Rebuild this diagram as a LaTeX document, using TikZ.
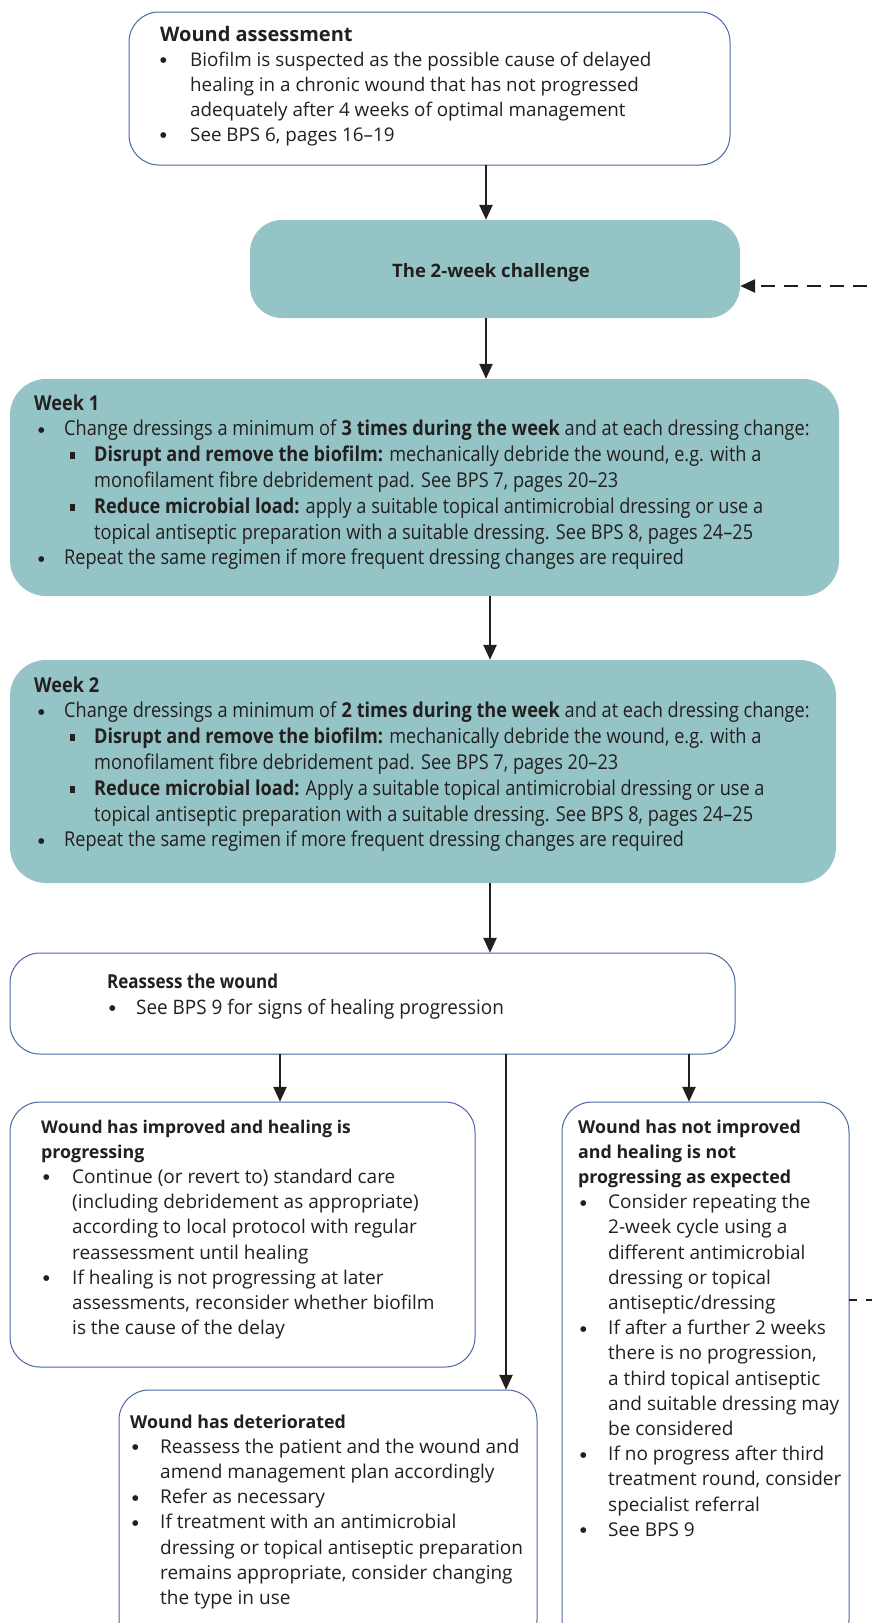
\documentclass[tikz,border=0pt]{standalone}
\usepackage{fontspec}
\setmainfont{Open Sans}
\newfontfamily\cond[FakeStretch=0.885]{Open Sans}
\newfontfamily\condb[FakeStretch=0.95]{Open Sans}
\newfontfamily\symfont{DejaVu Sans}
\usetikzlibrary{arrows.meta,calc}
\definecolor{tealfill}{HTML}{95C4C6}
\definecolor{bordblue}{HTML}{4A66A3}
\definecolor{txtcol}{HTML}{231F20}
\newcommand{\sbul}{\raisebox{3.6pt}{\symfont\fontsize{7.5}{7.5}\selectfont ●}}
\newcommand{\sq}{\raisebox{2.2pt}{\rule{5pt}{7pt}}}
\newcommand{\Bl}[2]{\hspace*{#1}\makebox[#2][l]{\sbul}}
\newcommand{\Sq}[2]{\hspace*{#1}\makebox[#2][l]{\sq}}
\newcommand{\hd}[1]{{\fontsize{17.8}{25}\selectfont\textbf{#1}}}
\tikzset{
  wbox/.style={draw=bordblue, line width=1pt, fill=white, rounded corners=30pt},
  tbox/.style={fill=tealfill, draw=none, rounded corners=32pt},
  txt/.style={inner sep=0pt, anchor=base west, text=txtcol},
  arr/.style={line width=2.4pt, -{Triangle[length=15pt,width=13pt]}, txtcol},
  dasharr/.style={line width=2.6pt, dash pattern=on 14pt off 9pt, dash phase=6pt, -{Triangle[length=15pt,width=13pt]}, txtcol},
}
\begin{document}
\begin{tikzpicture}[x=1pt,y=-1pt]
\useasboundingbox (0,0) rectangle (872,1623);
% boxes
\draw[wbox] (129,12) rectangle (730,165);
\node[inner sep=0pt, minimum width=601pt, minimum height=153pt] (wa) at (429.5,88.5) {};
\fill[tbox] (250,220) rectangle (740,318);
\node[inner sep=0pt, minimum width=490pt, minimum height=98pt] (ch) at (495,269) {};
\node[inner sep=0pt, font=\bfseries\fontsize{18.5}{22}\selectfont, text=txtcol] (cht) at (491,273) {The 2-week challenge};
\fill[tbox, rounded corners=36pt] (10,379) rectangle (839,596);
\node[inner sep=0pt, minimum width=829pt, minimum height=217pt] (w1) at (424.5,487.5) {};
\fill[tbox, rounded corners=36pt] (10,660) rectangle (836,883);
\node[inner sep=0pt, minimum width=826pt, minimum height=223pt] (w2) at (423,771.5) {};
\draw[wbox] (10,953) rectangle (735,1054);
\node[inner sep=0pt, minimum width=725pt, minimum height=101pt] (ra) at (372.5,1003.5) {};
\draw[wbox] (10,1102) rectangle (475,1367);
\node[inner sep=0pt, minimum width=465pt, minimum height=265pt] (imp) at (242.5,1234.5) {};
\draw[wbox] (119,1390) rectangle (537,1650);
\node[inner sep=0pt, minimum width=418pt, minimum height=260pt] (det) at (328,1520) {};
\draw[wbox] (562,1102) rectangle (849,1650);
\node[inner sep=0pt, minimum width=287pt, minimum height=548pt] (nimp) at (705.5,1376) {};

% texts
\node[txt] (twa) at (160,41) {\parbox[t]{560pt}{\fontsize{18.8}{25}\selectfont
{\fontsize{20}{25}\selectfont\textbf{Wound assessment}}\\
\Bl{0pt}{30pt}Biofilm is suspected as the possible cause of delayed\\
\hspace*{30pt}healing in a chronic wound that has not progressed\\
\hspace*{30pt}adequately after 4 weeks of optimal management\\
\Bl{0pt}{30pt}See BPS 6, pages 16–19}};

\node[txt] (tw1) at (34,410) {\parbox[t]{830pt}{\cond\fontsize{20.5}{25.8}\selectfont
\textbf{Week 1}\\
\Bl{4pt}{26pt}Change dressings a minimum of \textbf{3 times during the week} and at each dressing change:\\
\Sq{36pt}{24pt}\textbf{Disrupt and remove the biofilm:} mechanically debride the wound, e.g. with a\\
\hspace*{60pt}monofilament fibre debridement pad. See BPS 7, pages 20–23\\
\Sq{36pt}{24pt}\textbf{Reduce microbial load:} apply a suitable topical antimicrobial dressing or use a\\
\hspace*{60pt}topical antiseptic preparation with a suitable dressing. See BPS 8, pages 24–25\\
\Bl{4pt}{26pt}Repeat the same regimen if more frequent dressing changes are required}};

\node[txt] (tw2) at (34,692) {\parbox[t]{830pt}{\cond\fontsize{20.5}{25.8}\selectfont
\textbf{Week 2}\\
\Bl{4pt}{26pt}Change dressings a minimum of \textbf{2 times during the week} and at each dressing change:\\
\Sq{36pt}{24pt}\textbf{Disrupt and remove the biofilm:} mechanically debride the wound, e.g. with a\\
\hspace*{60pt}monofilament fibre debridement pad. See BPS 7, pages 20–23\\
\Sq{36pt}{24pt}\textbf{Reduce microbial load:} Apply a suitable topical antimicrobial dressing or use a\\
\hspace*{60pt}topical antiseptic preparation with a suitable dressing. See BPS 8, pages 24–25\\
\Bl{4pt}{26pt}Repeat the same regimen if more frequent dressing changes are required}};

\node[txt] (tra) at (107,988) {\parbox[t]{620pt}{\fontsize{19.2}{26}\selectfont
{\cond\textbf{Reassess the wound}}\\
\Bl{2pt}{27pt}{\condb\fontsize{19.9}{26}\selectfont See BPS 9 for signs of healing progression}}};

\node[txt] (timp) at (41,1133) {\parbox[t]{432pt}{\fontsize{19}{25.2}\selectfont
{\fontsize{17.5}{25}\selectfont\textbf{Wound has improved and healing is}}\\
\hd{progressing}\\
\Bl{2pt}{29pt}Continue (or revert to) standard care\\
\hspace*{31pt}(including debridement as appropriate)\\
\hspace*{31pt}according to local protocol with regular\\
\hspace*{31pt}reassessment until healing\\
\Bl{2pt}{29pt}If healing is not progressing at later\\
\hspace*{31pt}assessments, reconsider whether biofilm\\
\hspace*{31pt}is the cause of the delay}};

\node[txt] (tdet) at (130,1428) {\parbox[t]{405pt}{\fontsize{19}{25.2}\selectfont
\hd{Wound has deteriorated}\\
\Bl{2pt}{28pt}Reassess the patient and the wound and\\
\hspace*{30pt}amend management plan accordingly\\
\Bl{2pt}{28pt}Refer as necessary\\
\Bl{2pt}{28pt}If treatment with an antimicrobial\\
\hspace*{30pt}dressing or topical antiseptic preparation\\
\hspace*{30pt}remains appropriate, consider changing\\
\hspace*{30pt}the type in use}};

\node[txt] (tnimp) at (578,1133) {\parbox[t]{290pt}{\fontsize{19}{25.2}\selectfont
\hd{Wound has not improved}\\
\hd{and healing is not}\\
\hd{progressing as expected}\\
\Bl{2pt}{28pt}Consider repeating the\\
\hspace*{30pt}2-week cycle using a\\
\hspace*{30pt}different antimicrobial\\
\hspace*{30pt}dressing or topical\\
\hspace*{30pt}antiseptic/dressing\\
\Bl{2pt}{28pt}If after a further 2 weeks\\
\hspace*{30pt}there is no progression,\\
\hspace*{30pt}a third topical antiseptic\\
\hspace*{30pt}and suitable dressing may\\
\hspace*{30pt}be considered\\
\Bl{2pt}{28pt}If no progress after third\\
\hspace*{30pt}treatment round, consider\\
\hspace*{30pt}specialist referral\\
\Bl{2pt}{28pt}See BPS 9}};

% connectors
\coordinate (xa) at (486,0);
\coordinate (xb) at (490,0);
\coordinate (xl) at (280,0);
\coordinate (xm) at (506,0);
\coordinate (xr) at (689,0);
\coordinate (ytop) at (0,286);
\coordinate (ybot) at (0,1300);
\coordinate (loopb) at (900,1300);
\coordinate (loopt) at (900,286);
\draw[arr] (xa |- wa.south) -- (xa |- ch.north);
\draw[arr] (xa |- ch.south) -- (xa |- w1.north);
\draw[arr] (xb |- w1.south) -- (xb |- w2.north);
\draw[arr] (xb |- w2.south) -- (xb |- ra.north);
\draw[arr] (xl |- ra.south) -- (xl |- imp.north);
\draw[arr] (xm |- ra.south) -- (xm |- det.north);
\draw[arr] (xr |- ra.south) -- (xr |- nimp.north);
\draw[dasharr] (nimp.east |- ybot) -- (loopb) -- (loopt) -- (ch.east |- ytop);
\end{tikzpicture}
\end{document}
